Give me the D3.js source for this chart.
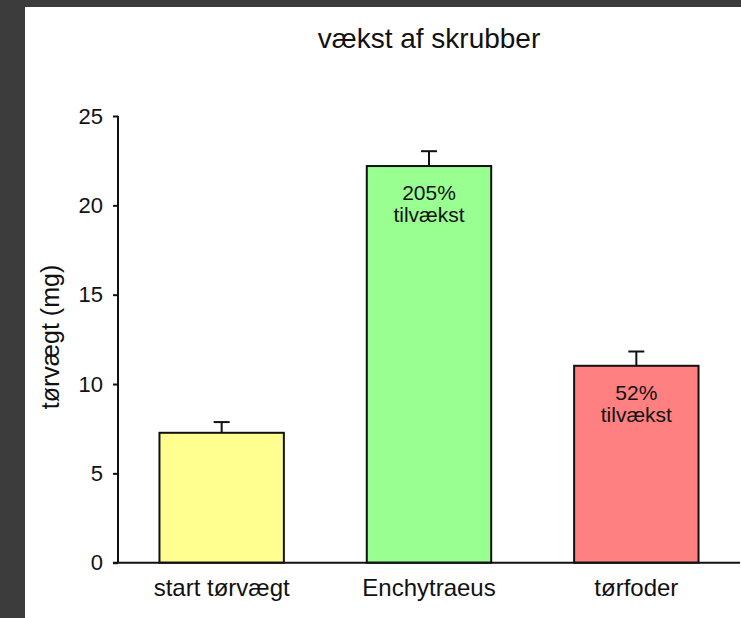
<!DOCTYPE html>
<html>
<head>
<meta charset="utf-8">
<script src="https://cdn.jsdelivr.net/npm/d3@7"></script>
<style>
	body { margin: 0; background: #3c3c3c; }
	svg { display: block; }
	text { font-family: "Liberation Sans", Arial, sans-serif; fill: #111; }
</style>
</head>
<body>
<script>
// Data
var categories = ["start tørvægt", "Enchytraeus", "tørfoder"];
var values = [7.27, 22.2, 11.02];
var errors = [0.6, 0.83, 0.8];
var colors = ["#ffff90", "#99ff90", "#ff8080"];
var barLabels = [[], ["205%", "tilvækst"], ["52%", "tilvækst"]];
var yTicks = [0, 5, 10, 15, 20, 25];

var width = 741, height = 618;
var margin = {top: 116, right: 1, bottom: 55, left: 118};

var svg = d3.select("body").append("svg")
		.attr("width", width)
		.attr("height", height);

// white page on the dark backdrop
svg.append("rect")
		.attr("x", 25).attr("y", 7)
		.attr("width", width - 25).attr("height", height - 7)
		.attr("fill", "#fff");

var x = d3.scaleBand()
		.domain(categories)
		.range([margin.left, width - margin.right])
		.paddingInner(0.4)
		.paddingOuter(0.2);

var y = d3.scaleLinear()
		.domain([0, 25])
		.range([height - margin.bottom - 0.3, margin.top]);

// Bars
svg.append("g").selectAll("rect")
		.data(values)
		.join("rect")
		.attr("x", function(d, i) { return x(categories[i]); })
		.attr("y", function(d) { return y(d); })
		.attr("width", x.bandwidth())
		.attr("height", function(d) { return y(0) - y(d); })
		.attr("fill", function(d, i) { return colors[i]; })
		.attr("stroke", "#111")
		.attr("stroke-width", 2);

// Error bars (upper only)
var err = svg.append("g").attr("stroke", "#111").attr("stroke-width", 2);
values.forEach(function(v, i) {
	var cx = x(categories[i]) + x.bandwidth() / 2;
	err.append("line")
			.attr("x1", cx).attr("x2", cx)
			.attr("y1", y(v)).attr("y2", y(v + errors[i]));
	err.append("line")
			.attr("x1", cx - 8).attr("x2", cx + 8)
			.attr("y1", y(v + errors[i])).attr("y2", y(v + errors[i]));
});

// Labels inside bars
values.forEach(function(v, i) {
	var cx = x(categories[i]) + x.bandwidth() / 2;
	barLabels[i].forEach(function(t, j) {
		svg.append("text")
				.attr("x", cx)
				.attr("y", y(v) + 34 + j * 22)
				.attr("text-anchor", "middle")
				.style("font-size", "21px")
				.text(t);
	});
});

// Y axis
var yAxis = svg.append("g")
		.attr("transform", "translate(" + margin.left + ",0)")
		.call(d3.axisLeft(y).tickValues(yTicks).tickSize(5).tickPadding(10));
yAxis.select(".domain").attr("stroke", "#111").attr("stroke-width", 2)
		.attr("d", "M0," + y(25) + "V" + y(0));
yAxis.selectAll(".tick line").attr("stroke", "#111").attr("stroke-width", 2);
yAxis.selectAll(".tick text").style("font-size", "22px")
		.style("font-family", "Liberation Sans, Arial, sans-serif").attr("fill", "#111");

// X axis baseline
var xAxis = svg.append("g")
		.attr("transform", "translate(0," + y(0) + ")")
		.call(d3.axisBottom(x).tickSize(0).tickPadding(16));
xAxis.select(".domain").attr("stroke", "#111").attr("stroke-width", 2)
		.attr("d", "M" + (margin.left - 5) + ",0H" + (width - 1));
xAxis.selectAll(".tick text").style("font-size", "24px")
		.style("font-family", "Liberation Sans, Arial, sans-serif").attr("fill", "#111");

// Axis title
svg.append("text")
		.attr("transform", "translate(59," + 337 + ") rotate(-90)")
		.attr("text-anchor", "middle")
		.style("font-size", "25px")
		.text("tørvægt (mg)");

// Chart title
svg.append("text")
		.attr("x", 429)
		.attr("y", 48)
		.attr("text-anchor", "middle")
		.style("font-size", "28px")
		.text("vækst af skrubber");
</script>
</body>
</html>
